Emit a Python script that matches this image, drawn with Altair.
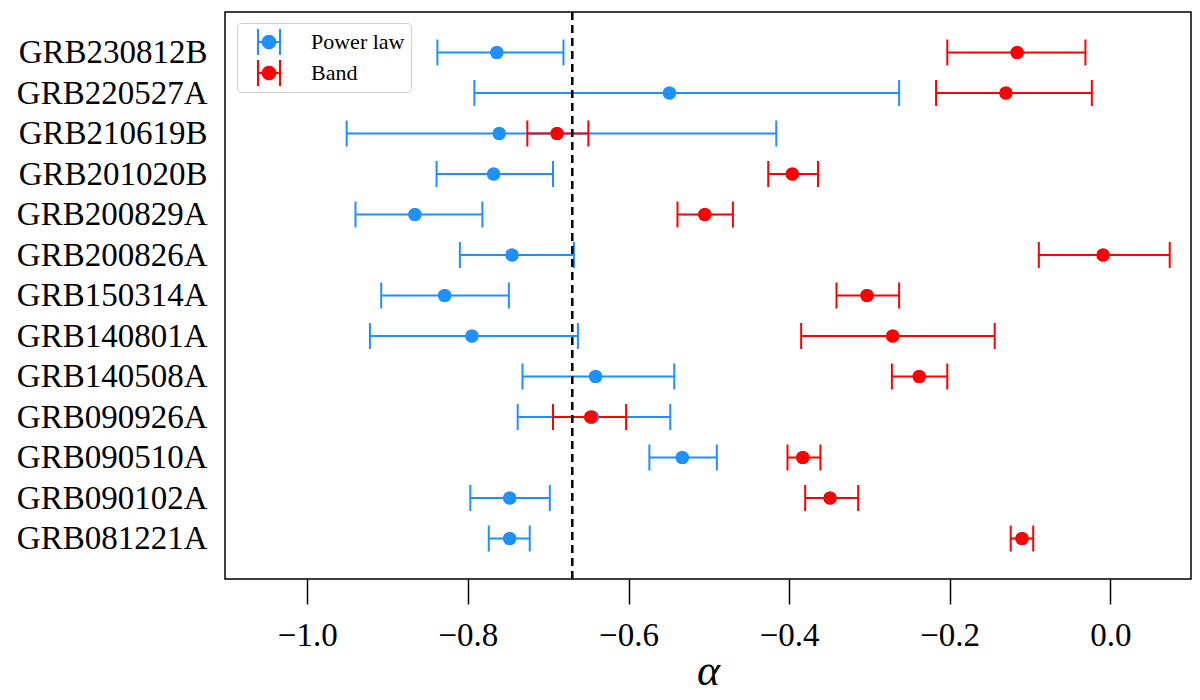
import altair as alt
import pandas as pd

# GRBs, top to bottom as they appear on the y axis
grbs = [
    "GRB230812B", "GRB220527A", "GRB210619B", "GRB201020B", "GRB200829A",
    "GRB200826A", "GRB150314A", "GRB140801A", "GRB140508A", "GRB090926A",
    "GRB090510A", "GRB090102A", "GRB081221A",
]

# power law fit: alpha and its lower / upper bound
pl_alpha = [-0.764, -0.549, -0.761, -0.768, -0.866, -0.745, -0.829,
            -0.795, -0.641, -0.645, -0.533, -0.748, -0.748]
pl_lo = [-0.838, -0.792, -0.951, -0.839, -0.940, -0.810, -0.908,
         -0.922, -0.732, -0.738, -0.574, -0.797, -0.774]
pl_hi = [-0.681, -0.263, -0.416, -0.694, -0.782, -0.668, -0.749,
         -0.663, -0.543, -0.548, -0.490, -0.698, -0.723]

# Band fit
band_alpha = [-0.116, -0.130, -0.689, -0.396, -0.505, -0.009, -0.303,
              -0.271, -0.238, -0.647, -0.383, -0.349, -0.110]
band_lo = [-0.203, -0.217, -0.726, -0.426, -0.539, -0.089, -0.341,
           -0.385, -0.272, -0.694, -0.402, -0.380, -0.124]
band_hi = [-0.031, -0.023, -0.650, -0.364, -0.470, 0.074, -0.263,
           -0.144, -0.203, -0.603, -0.361, -0.314, -0.096]

models = ["Power law", "Band"]
colors = ["#1E90FF", "#FF0000"]
ref_alpha = -0.67
x_ticks = [-1.0, -0.8, -0.6, -0.4, -0.2, 0.0]

FONT = "Liberation Serif"

rows = []
for model, a, lo, hi in [("Power law", pl_alpha, pl_lo, pl_hi),
                         ("Band", band_alpha, band_lo, band_hi)]:
    for g, v, l, h in zip(grbs, a, lo, hi):
        rows.append({"grb": g, "model": model, "alpha": v, "lo": l, "hi": h})
df = pd.DataFrame(rows)

x_scale = alt.Scale(domain=[-1.1025, 0.1005], nice=False, zero=False)
x_axis = alt.Axis(
    title="α", values=x_ticks, grid=False, domain=False,
    tickSize=25, tickWidth=1.5, tickColor="black",
    labelExpr="replace(format(datum.value, '.1f'), '-', '\u2212')",
    labelFont=FONT, labelFontSize=33, labelColor="black", labelPadding=15,
    titleFont=FONT, titleFontSize=44, titleFontStyle="italic",
    titleFontWeight="normal", titleColor="black", titlePadding=-3,
)


def X(field):
    return alt.X(f"{field}:Q", scale=x_scale, axis=x_axis)


y_enc = alt.Y(
    "grb:N", sort=grbs, scale=alt.Scale(type="point", padding=1),
    axis=alt.Axis(title=None, ticks=False, domain=False, grid=False,
                  labelFont=FONT, labelFontSize=33, labelColor="black",
                  labelPadding=18, labelLimit=400),
)

# errorbar glyph for the legend (filled): two caps, the bar and the dot
glyph = (
    "M-0.923,-1L-0.769,-1L-0.769,1L-0.923,1Z"
    "M0.769,-1L0.923,-1L0.923,1L0.769,1Z"
    "M-0.846,-0.077L0.846,-0.077L0.846,0.077L-0.846,0.077Z"
    "M-0.565,0A0.565,0.565,0,1,1,0.565,0A0.565,0.565,0,1,1,-0.565,0Z"
)

legend = alt.Legend(
    title=None, orient="none", legendX=12, legendY=11,
    symbolType=glyph, symbolSize=676, symbolStrokeWidth=0, symbolOffset=13,
    symbolOpacity=1,
    labelFont=FONT, labelFontSize=22, labelColor="black", labelOffset=29,
    rowPadding=5, padding=6, fillColor="white", strokeColor="#d0d0d0",
    cornerRadius=4,
)
color = alt.Color("model:N", scale=alt.Scale(domain=models, range=colors),
                  legend=legend)

base = alt.Chart(df).encode(y=y_enc, color=color)

bars = base.mark_rule(strokeWidth=2).encode(x=X("lo"), x2="hi:Q")
caps_lo = base.mark_tick(thickness=2, size=26, opacity=1).encode(x=X("lo"))
caps_hi = base.mark_tick(thickness=2, size=26, opacity=1).encode(x=X("hi"))
dots = base.mark_circle(size=175, opacity=1).encode(x=X("alpha"))

vline = (
    alt.Chart(pd.DataFrame({"alpha": [ref_alpha]}))
    .mark_rule(color="black", strokeWidth=2.5, strokeDash=[8, 5])
    .encode(x=X("alpha"))
)

# dots go first too, so the shared legend gets filled symbols
chart = (
    alt.layer(dots, bars, caps_lo, caps_hi, dots, vline)
    .properties(
        width=966, height=567,
        padding={"left": 217, "top": 4, "right": 1, "bottom": 113},
        autosize=alt.AutoSizeParams(type="none"),
    )
    .configure_view(stroke="black", strokeWidth=1.5)
)

chart.save("out.html", embed_options={"renderer": "svg", "actions": False})
